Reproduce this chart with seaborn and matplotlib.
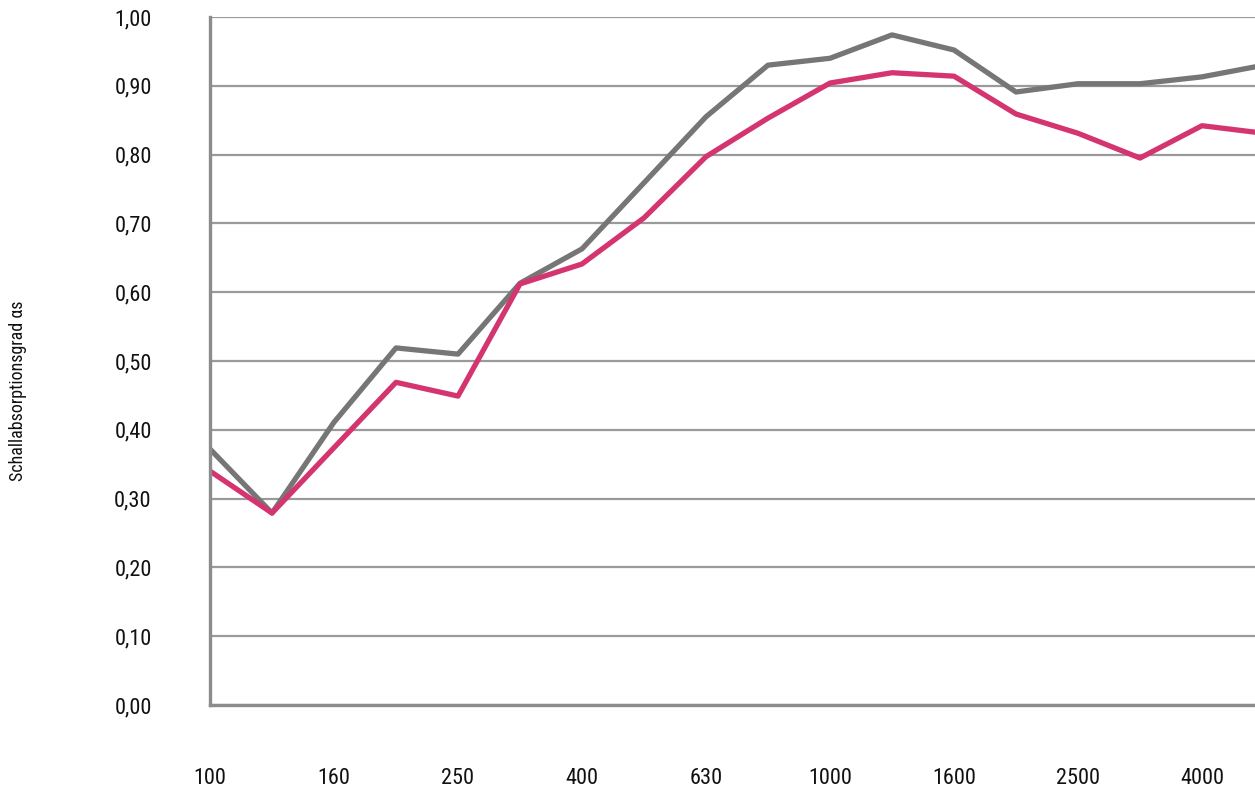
import matplotlib
matplotlib.use("Agg")
import matplotlib.pyplot as plt
from matplotlib import font_manager
import numpy as np
import pandas as pd
import seaborn as sns

# Third-octave band centre frequencies (Hz)
freqs = [100, 125, 160, 200, 250, 315, 400, 500, 630, 800,
         1000, 1250, 1600, 2000, 2500, 3150, 4000, 5000]

# Sound absorption coefficient per band
series_grey = [0.372, 0.279, 0.411, 0.519, 0.510, 0.613, 0.663, 0.759, 0.855,
               0.930, 0.940, 0.974, 0.952, 0.891, 0.903, 0.903, 0.913, 0.930]
series_pink = [0.340, 0.279, 0.374, 0.469, 0.449, 0.612, 0.641, 0.708, 0.797,
               0.853, 0.904, 0.919, 0.914, 0.859, 0.831, 0.795, 0.842, 0.831]

series_names = ["grau", "pink"]
line_colors = ["#767676", "#d4346f"]

y_ticks = [0.0, 0.1, 0.2, 0.3, 0.4, 0.5, 0.6, 0.7, 0.8, 0.9, 1.0]
y_label = "Schallabsorptionsgrad αs"

sns.set_theme(style="white")

installed = {f.name for f in font_manager.fontManager.ttflist}
family = [f for f in ["Liberation Sans Narrow", "Roboto Condensed", "Liberation Sans", "DejaVu Sans"]
          if f in installed] + ["DejaVu Sans"]
plt.rcParams["font.family"] = family

band = np.arange(len(freqs))
df = pd.concat([
    pd.DataFrame({"band": band, "alpha": series_grey, "series": series_names[0]}),
    pd.DataFrame({"band": band, "alpha": series_pink, "series": series_names[1]}),
])

fig = plt.figure(figsize=(12.55, 7.87), dpi=100)
ax = fig.add_axes([210 / 1255, 82 / 787, 1 - 210 / 1255, 688 / 787])

sns.lineplot(data=df, x="band", y="alpha", hue="series", hue_order=series_names,
             palette=line_colors, linewidth=3.8, ax=ax, legend=False, zorder=3)

ax.set_xlim(0, (1255 - 210) / 62)
ax.set_ylim(0, 1.0)

ax.set_yticks(y_ticks)
ax.set_yticklabels([f"{v:.2f}".replace(".", ",") for v in y_ticks])
ax.set_xticks(band[::2])
ax.set_xticklabels([str(f) for f in freqs[::2]])

ax.tick_params(axis="y", length=0, pad=42, labelsize=16, labelcolor="#111111")
ax.tick_params(axis="x", length=0, pad=45, labelsize=16, labelcolor="#111111")

ax.yaxis.grid(True, color="#9a9a9a", linewidth=1.6)
ax.xaxis.grid(False)
ax.set_axisbelow(True)

for side in ["top", "right"]:
    ax.spines[side].set_visible(False)
for side in ["left", "bottom"]:
    ax.spines[side].set_color("#8c8c8c")
    ax.spines[side].set_linewidth(2.4)
    ax.spines[side].set_zorder(4)

ax.set_xlabel("")
ax.set_ylabel("")
fig.text(18 / 1255, 1 - 391 / 787, y_label, rotation=90, ha="center", va="center",
         fontsize=13, color="#111111")

fig.savefig("out.png", dpi=100)
